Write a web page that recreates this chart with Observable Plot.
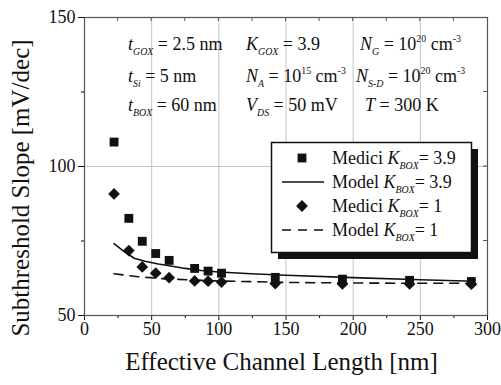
<!DOCTYPE html>
<html><head><meta charset="utf-8">
<script src="https://cdn.jsdelivr.net/npm/d3@7"></script>
<script src="https://cdn.jsdelivr.net/npm/@observablehq/plot@0.6"></script>
<style>body{margin:0} #xt{font-family:"Liberation Serif";font-size:25px;color:#111;text-align:center;width:501px;padding-left:62px;box-sizing:border-box;line-height:26px;margin-top:-1px}</style>
</head><body><div id="chart"></div><div id="xt">Effective Channel Length [nm]</div>
<script>
// Medici simulation points
const mediciL = [22, 33, 43, 53, 63, 82, 92, 102, 142, 192, 242, 288];
const mediciK39 = [108.2, 82.6, 74.9, 70.8, 68.5, 65.8, 64.9, 64.2, 62.8, 62.2, 61.8, 61.4];
const mediciK1 = [90.8, 71.8, 66.3, 64.2, 62.7, 61.6, 61.5, 61.2, 60.7, 60.6, 60.6, 60.5];
// Model curves
const modelL39 = [22, 30, 37, 45, 55, 62, 75, 87, 100, 124, 150, 200, 250, 290];
const modelK39 = [74.1, 71.3, 69.2, 68.2, 67.3, 66.8, 65.8, 65.1, 64.6, 64.0, 63.5, 62.7, 62.0, 61.5];
const modelL1 = [22, 40, 60, 80, 100, 150, 200, 250, 290];
const modelK1 = [64.0, 63.0, 62.3, 61.9, 61.6, 61.1, 60.9, 60.8, 60.8];
// ticks
const xTicks = [0, 50, 100, 150, 200, 250, 300];
const xMinor = [25, 75, 125, 175, 225, 275];
const yTicks = [50, 100, 150];
const yMinor = [75, 125];
const xGrid = [50, 100, 150, 200, 250];
const yGrid = [100];

const sq = mediciL.map((l, i) => ({l, s: mediciK39[i]}));
const di = mediciL.map((l, i) => ({l, s: mediciK1[i]}));
const m39 = modelL39.map((l, i) => ({l, s: modelK39[i]}));
const m1 = modelL1.map((l, i) => ({l, s: modelK1[i]}));

const FONT = "Liberation Serif";
const INK = "#111";

const plot = Plot.plot({
  width: 501, height: 350,
  marginLeft: 84, marginRight: 14, marginTop: 17, marginBottom: 35,
  style: {fontFamily: "Liberation Serif", fontSize: "18px"},
  x: {domain: [0, 300]},
  y: {domain: [50, 150]},
  marks: [
    Plot.gridX(xGrid, {stroke: "#c4c4c4", strokeOpacity: 1, strokeWidth: 1}),
    Plot.gridY(yGrid, {stroke: "#c4c4c4", strokeOpacity: 1, strokeWidth: 1}),
    Plot.axisX({ticks: xTicks, tickSize: 5, tickPadding: 2, label: null, fontSize: 18, fontFamily: FONT, stroke: INK, fill: INK}),
    Plot.axisX({ticks: xMinor, tickSize: 3, tickFormat: () => "", label: null}),
    Plot.axisY({ticks: yTicks, tickSize: 6, tickPadding: 3, label: null, fontSize: 18, fontFamily: FONT, stroke: INK, fill: INK}),
    Plot.axisY({ticks: yMinor, tickSize: 3, tickFormat: () => "", label: null}),
    Plot.line(m39, {x: "l", y: "s", stroke: INK, strokeWidth: 1.6}),
    Plot.line(m1, {x: "l", y: "s", stroke: INK, strokeWidth: 1.6, strokeDasharray: "9,7"}),
    Plot.dot(sq, {x: "l", y: "s", symbol: "square", r: 5, fill: INK, stroke: "none"}),
    Plot.dot(di, {x: "l", y: "s", symbol: "diamond2", r: 5.3, fill: INK, stroke: "none"}),
    Plot.frame({stroke: "#555", strokeWidth: 1.2})
  ]
});
document.getElementById("chart").appendChild(plot);

const svg = d3.select(plot);
svg.insert("style", ":first-child").text("text, tspan { font-family: 'Liberation Serif', serif !important; }");
const xs = plot.scale("x"), ys = plot.scale("y");
const X = v => xs.apply(v), Y = v => ys.apply(v);
const ov = svg.append("g").attr("text-anchor", "start").attr("font-family", FONT);

// mirror ticks (top, right)
[...xMinor, ...xTicks.slice(1, -1)].forEach(v => {
  ov.append("line").attr("x1", X(v)).attr("x2", X(v)).attr("y1", Y(150)).attr("y2", Y(150) + 4)
    .attr("stroke", "#555");
});
[...yMinor, ...yGrid].forEach(v => {
  ov.append("line").attr("x1", X(300)).attr("x2", X(300) - 4).attr("y1", Y(v)).attr("y2", Y(v))
    .attr("stroke", "#555");
});

function rich(g, x, y, segs, size) {
  const t = g.append("text").attr("x", x).attr("y", y).attr("text-anchor", "start")
    .attr("font-size", size).attr("font-family", FONT).attr("fill", INK);
  let cur = 0;
  for (const s of segs) {
    const target = s.sub ? size * 0.3 : s.sup ? -size * 0.42 : 0;
    const ts = t.append("tspan").attr("dy", target - cur).text(s.t);
    cur = target;
    if (s.sub || s.sup) ts.attr("font-size", size * 0.55);
    if (s.i) ts.attr("font-style", "italic");
  }
  return t;
}

// annotation block
const ann = [
  [128, 50, [{t: "t", i: 1}, {t: "GOX", sub: 1, i: 1}, {t: " = 2.5 nm"}]],
  [246, 50, [{t: "K", i: 1}, {t: "GOX", sub: 1, i: 1}, {t: " = 3.9"}]],
  [360, 50, [{t: "N", i: 1}, {t: "G", sub: 1, i: 1}, {t: " = 10"}, {t: "20", sup: 1}, {t: " cm"}, {t: "-3", sup: 1}]],
  [128, 82, [{t: "t", i: 1}, {t: "Si", sub: 1, i: 1}, {t: " = 5 nm"}]],
  [246, 82, [{t: "N", i: 1}, {t: "A", sub: 1, i: 1}, {t: " = 10"}, {t: "15", sup: 1}, {t: " cm"}, {t: "-3", sup: 1}]],
  [356, 82, [{t: "N", i: 1}, {t: "S-D", sub: 1, i: 1}, {t: " = 10"}, {t: "20", sup: 1}, {t: " cm"}, {t: "-3", sup: 1}]],
  [128, 111, [{t: "t", i: 1}, {t: "BOX", sub: 1, i: 1}, {t: " = 60 nm"}]],
  [246, 111, [{t: "V", i: 1}, {t: "DS", sub: 1, i: 1}, {t: " = 50 mV"}]],
  [365, 111, [{t: "T", i: 1}, {t: " = 300 K"}]]
];
ann.forEach(([x, y, segs]) => rich(ov, x, y, segs, 18));

// legend
const lg = ov.append("g");
lg.append("rect").attr("x", 278).attr("y", 149).attr("width", 200).attr("height", 110).attr("fill", INK);
lg.append("rect").attr("x", 271.5).attr("y", 142.5).attr("width", 200).attr("height", 110)
  .attr("fill", "#fff").attr("stroke", INK).attr("stroke-width", 1.5);
const rows = [
  {kind: "square", v: "3.9"},
  {kind: "line", v: "3.9"},
  {kind: "diamond", v: "1"},
  {kind: "dash", v: "1"}
];
rows.forEach((r, i) => {
  const cy = 158 + i * 24;
  if (r.kind === "square") {
    lg.append("path").attr("transform", `translate(302,${cy})`)
      .attr("d", d3.symbol(d3.symbolSquare, Math.PI * 25)()).attr("fill", INK);
  } else if (r.kind === "diamond") {
    lg.append("path").attr("transform", `translate(302,${cy})`)
      .attr("d", d3.symbol(d3.symbolDiamond2, Math.PI * 5.3 * 5.3)()).attr("fill", INK);
  } else {
    lg.append("line").attr("x1", 282).attr("x2", 324).attr("y1", cy).attr("y2", cy)
      .attr("stroke", INK).attr("stroke-width", 1.6)
      .attr("stroke-dasharray", r.kind === "dash" ? "9,7" : null);
  }
  rich(lg, 332, cy + 6, [
    {t: (r.kind === "square" || r.kind === "diamond") ? "Medici " : "Model "},
    {t: "K", i: 1}, {t: "BOX", sub: 1, i: 1}, {t: "= " + r.v}
  ], 18);
});

// y axis title
ov.append("text").attr("transform", "translate(29,188) rotate(-90)").attr("text-anchor", "middle")
  .attr("font-size", 25).attr("font-family", FONT).attr("fill", INK)
  .text("Subthreshold Slope [mV/dec]");
</script>
</body></html>
